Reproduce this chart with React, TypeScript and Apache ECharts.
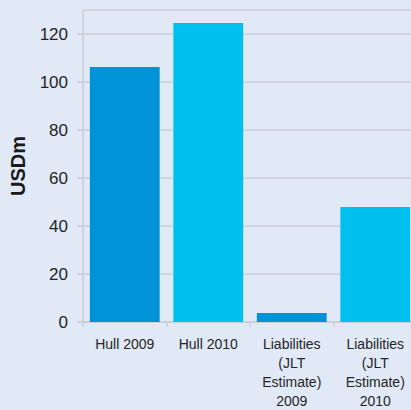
import React, { useEffect, useRef } from "react";
import * as echarts from "echarts";

const categories = [
  "Hull 2009",
  "Hull 2010",
  "Liabilities\n(JLT\nEstimate)\n2009",
  "Liabilities\n(JLT\nEstimate)\n2010",
];
const values = [106.3, 124.6, 3.8, 47.9];
const years = [2009, 2010, 2009, 2010];
const yAxisName = "USDm";

const DARK = "#0093d7";
const LIGHT = "#00c0ef";
const BG = "#e0e9f5";
const GRID = "#c9ced6";
const TEXT = "#262626";

export default function App() {
  const ref = useRef<HTMLDivElement>(null);
  useEffect(() => {
    if (!ref.current) return;
    const chart = echarts.init(ref.current, undefined, { renderer: "svg" });
    chart.setOption({
      animation: false,
      backgroundColor: BG,
      textStyle: { fontFamily: "Liberation Sans, Arial, sans-serif" },
      grid: { left: 82, top: 10, width: 335, bottom: 88, containLabel: false },
      xAxis: {
        type: "category",
        data: categories,
        axisLine: { show: true, lineStyle: { color: GRID, width: 1.5 } },
        axisTick: { show: true, length: 5, alignWithLabel: false, lineStyle: { color: GRID, width: 1.5 } },
        axisLabel: {
          interval: 0,
          fontSize: 14,
          lineHeight: 19,
          color: TEXT,
          margin: 12,
        },
        splitLine: { show: false },
      },
      yAxis: {
        type: "value",
        min: 0,
        max: 130,
        interval: 20,
        name: yAxisName,
        nameLocation: "middle",
        nameGap: 55,
        nameRotate: 90,
        nameTextStyle: { fontSize: 20, fontWeight: "bold", color: "#1a1a1a" },
        axisLine: { show: true, lineStyle: { color: GRID, width: 1.5 } },
        axisTick: { show: true, length: 6, lineStyle: { color: GRID, width: 1.5 } },
        axisLabel: {
          fontSize: 17,
          color: TEXT,
          margin: 15,
          showMaxLabel: false,
          formatter: (v: number) => (v === 130 ? "" : String(v)),
        },
        splitLine: { show: true, lineStyle: { color: GRID, width: 1.5 } },
      },
      series: [
        {
          type: "bar",
          data: values.map((v, i) => ({
            value: v,
            itemStyle: { color: years[i] === 2009 ? DARK : LIGHT },
          })),
          barCategoryGap: "16.4%",
        },
      ],
    });
    return () => chart.dispose();
  }, []);
  return (
    <div
      style={{
        position: "fixed",
        left: 0,
        top: 0,
        width: 411,
        height: 410,
        overflow: "hidden",
        background: BG,
      }}
    >
      <div ref={ref} style={{ width: 420, height: 410 }} />
    </div>
  );
}
